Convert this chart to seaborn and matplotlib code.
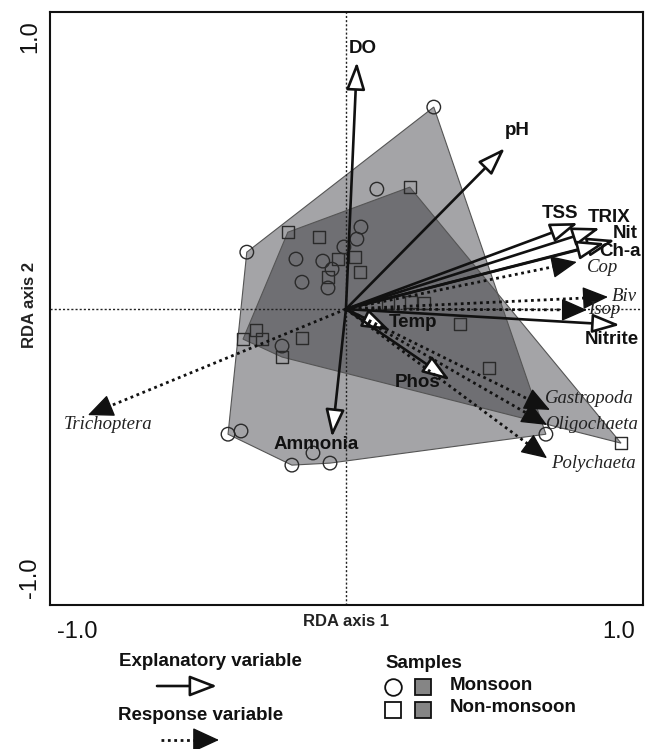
import numpy as np
import pandas as pd
import matplotlib
matplotlib.use("Agg")
import matplotlib.pyplot as plt
import seaborn as sns
from matplotlib.patches import FancyArrowPatch
from matplotlib.lines import Line2D

# ---------------- data ----------------
expl_names = ["DO", "pH", "TSS", "TRIX", "Nit", "Ch-a", "Nitrite", "Temp", "Phos", "Ammonia"]
expl_x = [0.038, 0.550, 0.803, 0.879, 0.931, 0.896, 0.948, 0.152, 0.360, -0.048]
expl_y = [0.855, 0.557, 0.298, 0.280, 0.239, 0.228, -0.055, -0.073, -0.246, -0.443]

resp_names = ["Trichoptera", "Cop", "Biv", "Isop", "Gastropoda", "Oligochaeta", "Polychaeta"]
resp_x = [-0.893, 0.799, 0.907, 0.834, 0.706, 0.696, 0.696]
resp_y = [-0.367, 0.163, 0.042, -0.003, -0.349, -0.401, -0.516]

monsoon_x = [0.304, 0.107, -0.343, 0.052, 0.038, -0.007, -0.173, -0.080, -0.048, -0.152,
             -0.062, -0.221, -0.408, -0.363, -0.114, -0.187, -0.055, 0.692]
monsoon_y = [0.699, 0.415, 0.197, 0.284, 0.242, 0.215, 0.173, 0.166, 0.138, 0.093,
             0.073, -0.128, -0.433, -0.422, -0.498, -0.540, -0.533, -0.433]

nonmonsoon_x = [0.221, -0.201, -0.093, -0.028, 0.031, 0.048, -0.062, 0.145, 0.225, 0.270,
                0.394, -0.311, -0.356, -0.291, -0.152, -0.221, 0.495, 0.952]
nonmonsoon_y = [0.422, 0.266, 0.249, 0.173, 0.180, 0.128, 0.111, 0.021, 0.024, 0.021,
                -0.052, -0.073, -0.104, -0.104, -0.100, -0.166, -0.204, -0.464]

tick_vals = [-1.0, -0.5, 0.0, 0.5, 1.0]
tick_labels = ["-1.0", "", "", "", "1.0"]

# label placement (layout)
label_pos = {
    "DO": (0.059, 0.903), "pH": (0.592, 0.619), "TSS": (0.740, 0.332),
    "TRIX": (0.910, 0.318), "Nit": (0.965, 0.263), "Ch-a": (0.950, 0.200),
    "Nitrite": (0.920, -0.107), "Temp": (0.232, -0.048), "Phos": (0.249, -0.253),
    "Ammonia": (-0.104, -0.467),
    "Trichoptera": (-0.824, -0.401), "Cop": (0.889, 0.145), "Biv": (0.965, 0.045),
    "Isop": (0.893, -0.003), "Gastropoda": (0.844, -0.311),
    "Oligochaeta": (0.851, -0.401), "Polychaeta": (0.855, -0.533),
}

# ---------------- style ----------------
sns.set_style("white")
plt.rcParams["font.family"] = ["Liberation Sans", "DejaVu Sans"]

W, H = 655, 749
fig = plt.figure(figsize=(W / 100, H / 100), dpi=100)
ax = fig.add_axes([50 / W, 1 - 605 / H, 593 / W, 593 / H])

df = pd.DataFrame({
    "x": monsoon_x + nonmonsoon_x,
    "y": monsoon_y + nonmonsoon_y,
    "season": ["Monsoon"] * len(monsoon_x) + ["Non-monsoon"] * len(nonmonsoon_x),
})


def convex_hull(xs, ys):
    pts = sorted(set(zip(xs, ys)))

    def cross(o, a, b):
        return (a[0] - o[0]) * (b[1] - o[1]) - (a[1] - o[1]) * (b[0] - o[0])

    lower, upper = [], []
    for p in pts:
        while len(lower) >= 2 and cross(lower[-2], lower[-1], p) <= 0:
            lower.pop()
        lower.append(p)
    for p in reversed(pts):
        while len(upper) >= 2 and cross(upper[-2], upper[-1], p) <= 0:
            upper.pop()
        upper.append(p)
    hull = lower[:-1] + upper[:-1]
    return [p[0] for p in hull], [p[1] for p in hull]


hull_color = "#24242a"
for xs, ys in [(monsoon_x, monsoon_y), (nonmonsoon_x, nonmonsoon_y)]:
    hx, hy = convex_hull(xs, ys)
    ax.fill(hx, hy, facecolor=hull_color, alpha=0.41, edgecolor="none", zorder=1)
    ax.fill(hx, hy, facecolor="none", edgecolor="#555555", lw=0.8, zorder=1.2)

ax.axhline(0, color="#222222", ls=(0, (1.5, 1.5)), lw=1.0, zorder=1.5)
ax.axvline(0, color="#222222", ls=(0, (1.5, 1.5)), lw=1.0, zorder=1.5)

sns.scatterplot(data=df, x="x", y="y", style="season",
                markers={"Monsoon": "o", "Non-monsoon": "s"},
                size="season", sizes={"Monsoon": 95, "Non-monsoon": 80},
                facecolor="none", edgecolor="#2a2a2a", linewidth=1.0,
                legend=False, ax=ax, zorder=3)

INK = "#111111"

# explanatory arrows (solid, open head)
for n, x, y in zip(expl_names, expl_x, expl_y):
    ax.add_patch(FancyArrowPatch((0, 0), (x, y),
                                 arrowstyle="-|>,head_length=1.3,head_width=0.45",
                                 mutation_scale=13, facecolor="white", edgecolor=INK,
                                 lw=1.9, shrinkA=0, shrinkB=0, zorder=4))
    lx, ly = label_pos[n]
    ax.text(lx, ly, n, fontsize=13.5, fontweight="bold", ha="center", va="center",
            color=INK, zorder=6)

# response arrows (dotted line, filled solid head)
for n, x, y in zip(resp_names, resp_x, resp_y):
    r = np.hypot(x, y)
    ux, uy = x / r, y / r
    ax.plot([0, x - ux * 0.03], [0, y - uy * 0.03], color=INK, lw=2.0,
            ls=(0, (1, 1.3)), zorder=4, solid_capstyle="butt")
    ax.add_patch(FancyArrowPatch((x - ux * 0.01, y - uy * 0.01), (x, y),
                                 arrowstyle="-|>,head_length=1.25,head_width=0.55",
                                 mutation_scale=13, facecolor=INK, edgecolor=INK,
                                 lw=1.0, shrinkA=0, shrinkB=0, zorder=4.5))
    lx, ly = label_pos[n]
    ax.text(lx, ly, n, fontsize=13.5, family=["Liberation Serif", "DejaVu Serif"],
            style="italic", ha="center", va="center", color="#222222", zorder=6)

ax.set_xlim(-1.024, 1.028)
ax.set_ylim(-1.024, 1.028)
ax.set_xlabel("")
ax.set_ylabel("")
ax.set_xticks(tick_vals)
ax.set_xticklabels(tick_labels)
ax.set_yticks(tick_vals)
ax.set_yticklabels(tick_labels, rotation=90)
ax.tick_params(axis="both", direction="inout", length=7, width=1.2, labelsize=17,
               colors=INK, top=False, right=False)
ax.tick_params(axis="x", pad=8)
ax.tick_params(axis="y", pad=3)
xl = ax.get_xticklabels()
xl[0].set_ha("left")
xl[-1].set_ha("right")
yl = ax.get_yticklabels()
yl[0].set_va("bottom")
yl[-1].set_va("top")
for s in ax.spines.values():
    s.set_linewidth(1.5)
    s.set_color(INK)

fig.text(346 / W, 1 - 621 / H, "RDA axis 1", ha="center", va="center",
         fontsize=12, fontweight="bold", color="#222222")
fig.text(30 / W, 1 - 305 / H, "RDA axis 2", ha="center", va="center",
         rotation=90, fontsize=12, fontweight="bold", color="#222222")

# ---------------- legend ----------------
def fp(px, py):
    return (px / W, 1 - py / H)

fig.text(*fp(210, 662), "Explanatory variable", ha="center", va="center",
         fontsize=13.5, fontweight="bold", color=INK)
fig.add_artist(FancyArrowPatch(fp(157, 686), fp(217, 686), transform=fig.transFigure,
                               arrowstyle="-|>,head_length=1.3,head_width=0.5",
                               mutation_scale=13, facecolor="white", edgecolor=INK,
                               lw=1.9, shrinkA=0, shrinkB=0))
fig.text(*fp(201, 715), "Response variable", ha="center", va="center",
         fontsize=13.5, fontweight="bold", color=INK)
fig.add_artist(Line2D([161 / W, 205 / W], [1 - 740 / H, 1 - 740 / H], color=INK, lw=2.0,
                      ls=(0, (1, 1.3)), transform=fig.transFigure))
fig.add_artist(FancyArrowPatch(fp(212, 740), fp(219, 740), transform=fig.transFigure,
                               arrowstyle="-|>,head_length=1.3,head_width=0.6",
                               mutation_scale=13, facecolor=INK, edgecolor=INK,
                               lw=1.0, shrinkA=0, shrinkB=0))

fig.text(*fp(385, 663), "Samples", ha="left", va="center",
         fontsize=13.5, fontweight="bold", color=INK)
fig.add_artist(Line2D([393 / W], [1 - 687 / H], marker="o", markersize=12,
                      mfc="white", mec=INK, mew=1.3, transform=fig.transFigure))
fig.add_artist(Line2D([423 / W], [1 - 687 / H], marker="s", markersize=11.5,
                      mfc="#858585", mec=INK, mew=1.3, transform=fig.transFigure))
fig.text(*fp(450, 685), "Monsoon", ha="left", va="center",
         fontsize=13.5, fontweight="bold", color=INK)
fig.add_artist(Line2D([393 / W], [1 - 710 / H], marker="s", markersize=12,
                      mfc="white", mec=INK, mew=1.3, transform=fig.transFigure))
fig.add_artist(Line2D([423 / W], [1 - 710 / H], marker="s", markersize=11.5,
                      mfc="#858585", mec=INK, mew=1.3, transform=fig.transFigure))
fig.text(*fp(450, 708), "Non-monsoon", ha="left", va="center",
         fontsize=13.5, fontweight="bold", color=INK)

fig.savefig("out.png", dpi=100)
